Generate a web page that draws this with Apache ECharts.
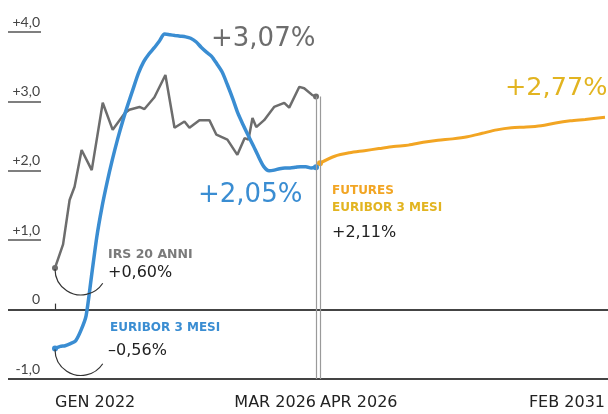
<!DOCTYPE html>
<html><head><meta charset="utf-8">
<script src="https://cdn.jsdelivr.net/npm/echarts@6/dist/echarts.min.js"></script>
<style>html,body{margin:0;padding:0;background:#fff}#c{width:608px;height:414px}</style>
</head><body><div id="c"></div>
<script>
// ---- data ----
const yTicks = [-1, 0, 1, 2, 3, 4];
const yTickLabels = ['-1,0', '0', '+1,0', '+2,0', '+3,0', '+4,0'];
const xLabels = ['GEN 2022', 'MAR 2026', 'APR 2026', 'FEB 2031'];
const xLabelDates = ['2022-01-01', '2026-03-01', '2026-04-01', '2031-02-01'];

const euriborDates = ['2022-01','2022-02','2022-03','2022-04','2022-05','2022-06','2022-07','2022-08','2022-09','2022-10','2022-11','2022-12',
  '2023-01','2023-02','2023-03','2023-04','2023-05','2023-06','2023-07','2023-08','2023-09','2023-10','2023-11','2023-12',
  '2024-01','2024-02','2024-03','2024-04','2024-05','2024-06','2024-07','2024-08','2024-09','2024-10','2024-11','2024-12',
  '2025-01','2025-02','2025-03','2025-04','2025-05','2025-06','2025-07','2025-08','2025-09','2025-10','2025-11','2025-12',
  '2026-01','2026-02','2026-03'];
const euriborValues = [-0.56,-0.53,-0.52,-0.49,-0.45,-0.30,-0.09,0.47,1.04,1.47,1.84,2.16,
  2.46,2.73,2.95,3.18,3.40,3.57,3.68,3.77,3.87,3.97,3.96,3.95,
  3.94,3.93,3.91,3.86,3.78,3.71,3.65,3.54,3.42,3.24,3.04,2.83,
  2.66,2.50,2.36,2.20,2.06,2.00,2.01,2.03,2.04,2.04,2.05,2.06,
  2.06,2.04,2.05];

const irsDates = ['2022-01-01','2022-02-17','2022-03-27','2022-04-25','2022-06-05','2022-08-03','2022-10-06','2022-12-03',
  '2023-02-11','2023-03-10','2023-05-08','2023-06-06','2023-08-03','2023-10-06','2023-11-28',
  '2024-01-25','2024-02-23','2024-04-21','2024-06-18','2024-07-29','2024-10-01','2024-11-28',
  '2025-01-09','2025-02-01','2025-02-24','2025-03-18','2025-05-03','2025-06-30','2025-08-28','2025-09-26','2025-11-24','2025-12-22',
  '2026-02-08','2026-03-01'];
const irsValues = [0.60,0.94,1.58,1.77,2.30,2.01,2.98,2.59,
  2.83,2.88,2.92,2.89,3.06,3.38,2.62,
  2.71,2.62,2.73,2.73,2.52,2.45,2.23,
  2.47,2.45,2.76,2.63,2.73,2.92,2.98,2.91,3.21,3.19,
  3.09,3.07];

const futuresDates = ['2026-04','2026-07','2026-10','2027-01','2027-04','2027-07','2027-10','2028-01','2028-04','2028-07',
  '2028-10','2029-01','2029-04','2029-07','2029-10','2030-01','2030-04','2030-07','2030-10','2031-02'];
const futuresValues = [2.11,2.21,2.26,2.29,2.32,2.35,2.37,2.41,2.44,2.46,
  2.49,2.54,2.59,2.62,2.63,2.65,2.69,2.72,2.74,2.77];

// ---- style ----
const FONT = '"DejaVu Sans", Lato, sans-serif';
const AXFONT = 'Lato, "Open Sans", sans-serif';
const C_GRAY = '#6d6d6d', C_BLUE = '#3a8dd2', C_ORANGE = '#f2a523', C_GOLD = '#e2b420';
const TOP = 32, BOTTOM = 35;
function ts(s){ const p = s.split('-').map(Number); return new Date(p[0], (p[1]||1)-1, p[2]||1).getTime(); }
const xd = xLabelDates.map(ts);

const chart = echarts.init(document.getElementById('c'), null, {renderer:'canvas'});

function endSym(n){ return function(v, p){ return (p.dataIndex === 0 || p.dataIndex === n - 1) ? 6 : 0; }; }

function labelAxis(grid, min, max, val, text, align, tick){
  return {gridIndex:grid, type:'value', min:min, max:max, position:'bottom',
    axisLine:{show:false}, splitLine:{show:false},
    axisTick:{show:!!tick, inside:true, length:6, customValues:[val], lineStyle:{color:'#333', width:1.2}},
    axisLabel:{customValues:[val], formatter:function(){return text;}, align:align, margin:16,
      fontSize:16, color:'#222', fontFamily:FONT, fontWeight:'normal'}};
}

const option = {
  animation:false,
  backgroundColor:'#fff',
  textStyle:{fontFamily:FONT},
  grid:[
    {left:8, width:33, top:TOP, bottom:BOTTOM},
    {left:8, right:0, top:TOP, bottom:BOTTOM},
    {left:55, right:292, top:TOP, bottom:BOTTOM},
    {left:320, right:0, top:TOP, bottom:BOTTOM}
  ],
  xAxis:[
    {gridIndex:0, type:'value', show:false, min:0, max:1},
    {gridIndex:1, type:'value', show:false, min:0, max:1},
    labelAxis(2, xd[0], xd[1], xd[0], xLabels[0], 'left', true),
    labelAxis(2, xd[0], xd[1], xd[1], xLabels[1], 'right', false),
    labelAxis(3, xd[2], xd[3], xd[2], xLabels[2], 'left', false),
    labelAxis(3, xd[2], xd[3], xd[3], xLabels[3], 'right', false)
  ],
  yAxis:[
    {gridIndex:0, type:'value', min:yTicks[0], max:yTicks[yTicks.length-1], interval:1, position:'right',
      axisLine:{show:false}, axisTick:{show:false},
      axisLabel:{inside:true, verticalAlign:'bottom', margin:1, padding:[0,0,3,0], fontSize:14, color:'#444', fontFamily:AXFONT,
        formatter:function(v){ return yTickLabels[yTicks.indexOf(v)]; }},
      splitLine:{show:true, lineStyle:{color:'#555', width:1.5}}},
    {gridIndex:1, type:'value', min:yTicks[0], max:yTicks[yTicks.length-1], interval:1,
      axisLine:{show:false}, axisTick:{show:false}, axisLabel:{show:false},
      splitLine:{show:true, lineStyle:{color:['#444','#444','rgba(0,0,0,0)','rgba(0,0,0,0)','rgba(0,0,0,0)','rgba(0,0,0,0)'], width:2}}},
    {gridIndex:2, type:'value', min:-1, max:4, show:false, splitLine:{show:false}},
    {gridIndex:3, type:'value', min:-1, max:4, show:false, splitLine:{show:false}}
  ],
  series:[
    {name:'IRS 20 ANNI', type:'line', xAxisIndex:2, yAxisIndex:2, z:2,
      data: irsDates.map(function(d,i){ return [ts(d), irsValues[i]]; }),
      color:C_GRAY, lineStyle:{color:C_GRAY, width:2.5},
      symbol:'circle', showSymbol:true, showAllSymbol:true, symbolSize:endSym(irsDates.length),
      itemStyle:{color:C_GRAY},
      markLine:{silent:true, symbol:'none', label:{show:false}, lineStyle:{color:'#9a9a9a', width:1.2, type:'solid'},
        data:[[{coord:[xd[1], irsValues[irsValues.length-1]]},{coord:[xd[1], -1]}]]}},
    {name:'FUTURES EURIBOR 3 MESI', type:'line', xAxisIndex:4, yAxisIndex:3, z:3, smooth:0.3,
      data: futuresDates.map(function(d,i){ return [ts(d), futuresValues[i]]; }),
      color:C_ORANGE, lineStyle:{color:C_ORANGE, width:3},
      symbol:'circle', showSymbol:true, showAllSymbol:true,
      symbolSize:function(v,p){ return p.dataIndex === 0 ? 6 : 0; },
      itemStyle:{color:C_ORANGE},
      markLine:{silent:true, symbol:'none', label:{show:false}, lineStyle:{color:'#9a9a9a', width:1.2, type:'solid'},
        data:[[{coord:[xd[2], irsValues[irsValues.length-1]]},{coord:[xd[2], -1]}]]}},
    {name:'EURIBOR 3 MESI', type:'line', xAxisIndex:2, yAxisIndex:2, z:4, smooth:0.25,
      data: euriborDates.map(function(d,i){ return [ts(d), euriborValues[i]]; }),
      color:C_BLUE, lineStyle:{color:C_BLUE, width:3.5},
      symbol:'circle', showSymbol:true, showAllSymbol:true, symbolSize:endSym(euriborDates.length),
      itemStyle:{color:C_BLUE}}
  ]
};
chart.setOption(option);

// annotations
const pIrs = chart.convertToPixel({seriesIndex:0}, [ts(irsDates[0]), irsValues[0]]);
const pEur = chart.convertToPixel({seriesIndex:2}, [ts(euriborDates[0]), euriborValues[0]]);
const R = 26;
function arc(p){ return {type:'arc', silent:true, z:10,
  shape:{cx:p[0]+R, cy:p[1]+1, r:R, startAngle:0.58, endAngle:Math.PI, clockwise:true},
  style:{stroke:'#333', fill:null, lineWidth:1.2}}; }
function txt(x, y, s, fill, size, weight){ return {type:'text', left:x, top:y, silent:true, z:10,
  style:{text:s, fill:fill, font: weight + ' ' + size + 'px ' + FONT}}; }

chart.setOption({graphic:[
  arc(pIrs), arc(pEur),
  txt(211, 26, '+3,07%', C_GRAY, 26, 'normal'),
  txt(198, 182, '+2,05%', C_BLUE, 26, 'normal'),
  txt(505, 75, '+2,77%', C_GOLD, 25.5, 'normal'),
  txt(108, 248, 'IRS 20 ANNI', '#7a7a7a', 12.5, 'bold'),
  txt(108, 265, '+0,60%', '#222', 16, 'normal'),
  txt(110, 322, 'EURIBOR 3 MESI', C_BLUE, 12, 'bold'),
  txt(108, 343, '\u20130,56%', '#222', 16, 'normal'),
  txt(332, 185, 'FUTURES', C_ORANGE, 12, 'bold'),
  txt(332, 202, 'EURIBOR 3 MESI', C_GOLD, 12, 'bold'),
  txt(332, 225, '+2,11%', '#222', 16, 'normal')
]});
</script></body></html>
